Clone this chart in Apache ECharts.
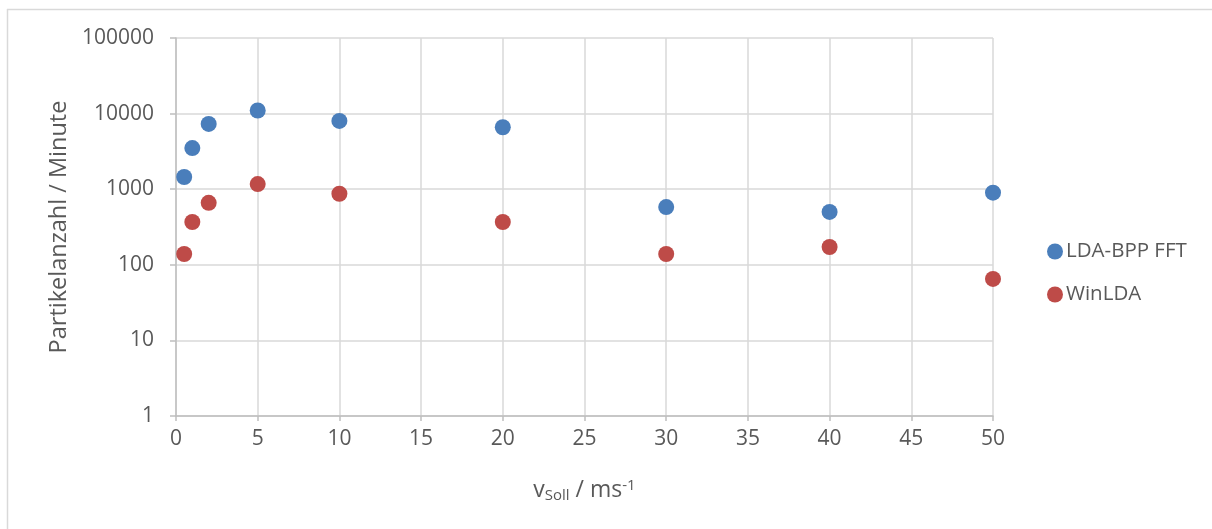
<!DOCTYPE html>
<html><head><meta charset="utf-8">
<script src="https://cdn.jsdelivr.net/npm/echarts@6/dist/echarts.min.js"></script>
<style>html,body{margin:0;padding:0;background:#fff}#c{width:1212px;height:529px}</style>
</head><body><div id="c"></div>
<script>
const xValues = [0.5, 1, 2, 5, 10, 20, 30, 40, 50];
const ldaBppFft = [1450, 3500, 7300, 11000, 8000, 6600, 580, 500, 900];
const winLda = [139, 368, 660, 1170, 870, 368, 139, 172, 65];
const seriesNames = ['LDA-BPP FFT', 'WinLDA'];
const seriesColors = ['#4A7EBB', '#BE4B48'];

const txt = '#595959';
const font = 'Open Sans';
const chart = echarts.init(document.getElementById('c'));
chart.setOption({
  animation: false,
  textStyle: {fontFamily: font},
  graphic: [
    {type: 'line', shape: {x1: 7, y1: 9.5, x2: 1212, y2: 9.5}, style: {stroke: '#d9d9d9', lineWidth: 1.5}},
    {type: 'line', shape: {x1: 7.5, y1: 9, x2: 7.5, y2: 529}, style: {stroke: '#d9d9d9', lineWidth: 1.5}}
  ],
  grid: {left: 176, top: 38, right: 219, bottom: 113},
  legend: {
    orient: 'vertical', left: 1042, top: 236, itemGap: 22,
    itemWidth: 16, itemHeight: 16, icon: 'circle',
    textStyle: {color: txt, fontSize: 20.5, fontFamily: font, padding: [0, 0, 0, -2]},
    data: seriesNames
  },
  xAxis: {
    type: 'value', min: 0, max: 50, interval: 5,
    name: '{v|v}{s|Soll}{v| / ms}{p|-1}', nameLocation: 'middle', nameGap: 62,
    nameTextStyle: {rich: {
      v: {fontSize: 23, color: txt, fontFamily: font},
      s: {fontSize: 15, color: txt, fontFamily: font, verticalAlign: 'bottom', padding: [10, 0, 0, 0]},
      p: {fontSize: 15, color: txt, fontFamily: font, verticalAlign: 'top', padding: [0, 0, 10, 0]}
    }},
    axisLine: {show: true, lineStyle: {color: '#bfbfbf', width: 1.5}},
    axisTick: {show: true, length: 5, lineStyle: {color: '#bfbfbf', width: 1.5}},
    axisLabel: {color: txt, fontSize: 21, margin: 13},
    splitLine: {show: true, lineStyle: {color: '#d9d9d9', width: 1.5}}
  },
  yAxis: {
    type: 'log', logBase: 10, min: 1, max: 100000,
    name: 'Partikelanzahl / Minute', nameLocation: 'middle', nameGap: 104,
    nameTextStyle: {color: txt, fontSize: 23.5, fontFamily: font},
    axisLine: {show: true, lineStyle: {color: '#bfbfbf', width: 1.5}},
    axisTick: {show: true, length: 6, lineStyle: {color: '#bfbfbf', width: 1.5}},
    axisLabel: {color: txt, fontSize: 21, margin: 22, formatter: v => String(Math.round(v))},
    splitLine: {show: true, lineStyle: {color: '#d9d9d9', width: 1.5}},
    minorTick: {show: false}
  },
  series: [
    {name: seriesNames[0], type: 'scatter', symbolSize: 16, itemStyle: {color: seriesColors[0], opacity: 1},
     data: xValues.map((x, i) => [x, ldaBppFft[i]])},
    {name: seriesNames[1], type: 'scatter', symbolSize: 16, itemStyle: {color: seriesColors[1], opacity: 1},
     data: xValues.map((x, i) => [x, winLda[i]])}
  ]
});
</script></body></html>
